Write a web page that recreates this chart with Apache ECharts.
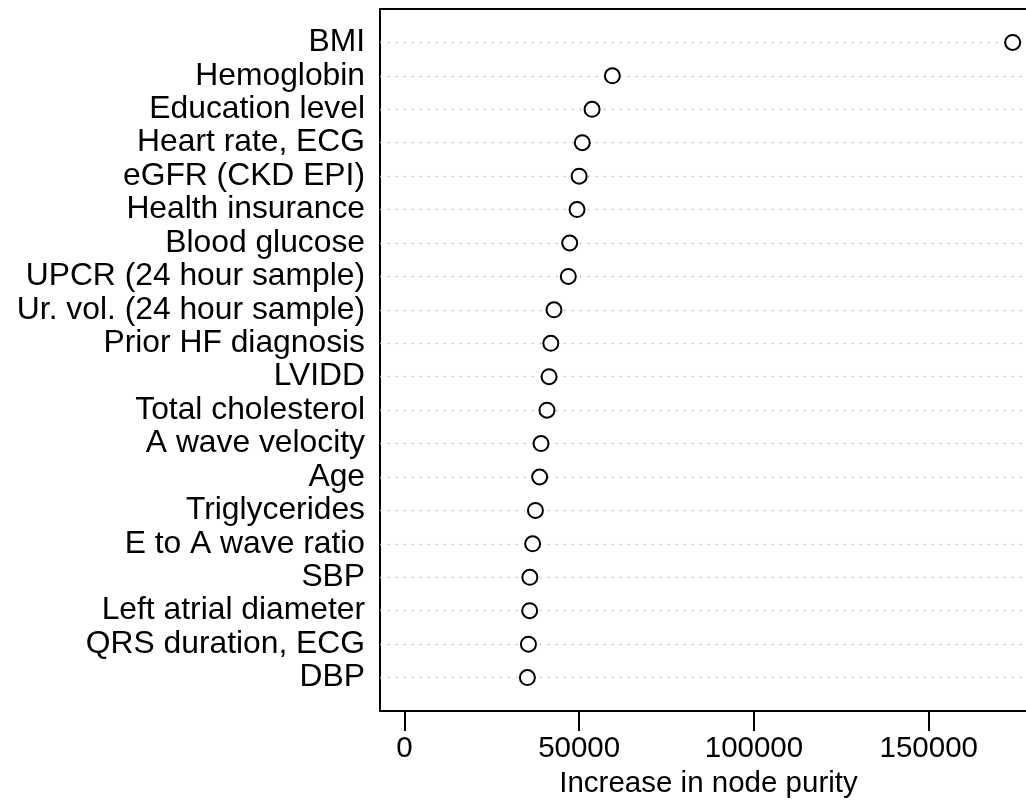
<!DOCTYPE html>
<html>
<head>
<meta charset="utf-8">
<script src="https://cdn.jsdelivr.net/npm/echarts@6/dist/echarts.min.js"></script>
<style>
  html, body { margin: 0; padding: 0; background: #fff; }
  #visualisation { width: 1026px; height: 800px; }
</style>
</head>
<body>
<div id="visualisation"></div>
<script>
// Variabelen, van boven naar beneden zoals in de figuur.
const variables = [
  'BMI', 'Hemoglobin', 'Education level', 'Heart rate, ECG', 'eGFR (CKD EPI)',
  'Health insurance', 'Blood glucose', 'UPCR (24 hour sample)', 'Ur. vol. (24 hour sample)',
  'Prior HF diagnosis', 'LVIDD', 'Total cholesterol', 'A wave velocity', 'Age',
  'Triglycerides', 'E to A wave ratio', 'SBP', 'Left atrial diameter',
  'QRS duration, ECG', 'DBP'
];
const purity = [
  174000, 59500, 53700, 50900, 50000,
  49400, 47300, 46900, 42800,
  41900, 41400, 40800, 39100, 38700,
  37500, 36700, 35900, 35850,
  35500, 35200
];
const tickValues = [0, 50000, 100000, 150000];

function drawVisualisation() {
  let visualisation = echarts.init(document.getElementById('visualisation'));

  // Categorie-as van onder naar boven, met lege plaatsen aan de randen.
  const cats = [' '].concat(variables.slice().reverse(), ['  ']);
  const values = purity.slice().reverse();
  const points = values.map((v, i) => [v, i + 1]);

  // R dotchart: xlim = c(0, max) met 4% marge.
  const maxVal = Math.max(...purity);
  const pad = maxVal * 0.04;

  const font = '"Liberation Sans", Arial, Helvetica, sans-serif';

  let option = {
    animation: false,
    backgroundColor: '#fff',
    grid: {
      left: 380, top: 9, width: 657, bottom: 89,
      outerBoundsMode: 'none',
      containLabel: false,
      show: true, borderColor: '#000', borderWidth: 2,
      backgroundColor: 'transparent'
    },
    xAxis: {
      type: 'value',
      min: -pad,
      max: maxVal + pad,
      name: 'Increase in node purity',
      nameLocation: 'middle',
      nameGap: 57,
      nameTextStyle: { color: '#000', fontSize: 29.5, fontFamily: font },
      axisLine: { show: false },
      axisTick: {
        show: true, length: 20, customValues: tickValues,
        lineStyle: { color: '#000', width: 2 }
      },
      axisLabel: {
        show: true, customValues: tickValues, margin: 23,
        formatter: (v) => String(v),
        color: '#000', fontSize: 29.5, fontFamily: font
      },
      splitLine: { show: false }
    },
    yAxis: {
      type: 'category',
      data: cats,
      boundaryGap: false,
      axisLine: { show: false },
      axisTick: { show: false },
      axisLabel: {
        interval: 0, margin: 15,
        color: '#000', fontSize: 31.8, fontFamily: font
      },
      splitLine: {
        show: true,
        interval: (idx) => idx > 0 && idx < cats.length - 1,
        lineStyle: { color: '#b4b4b4', width: 1.4, type: [1.4, 6.6] }
      }
    },
    series: [{
      type: 'scatter',
      data: points,
      symbol: 'circle',
      symbolSize: 15,
      itemStyle: { color: '#fff', borderColor: '#000', borderWidth: 2, opacity: 1 },
      z: 5
    }]
  };

  visualisation.setOption(option);
}

window.addEventListener('load', drawVisualisation);
</script>
</body>
</html>
